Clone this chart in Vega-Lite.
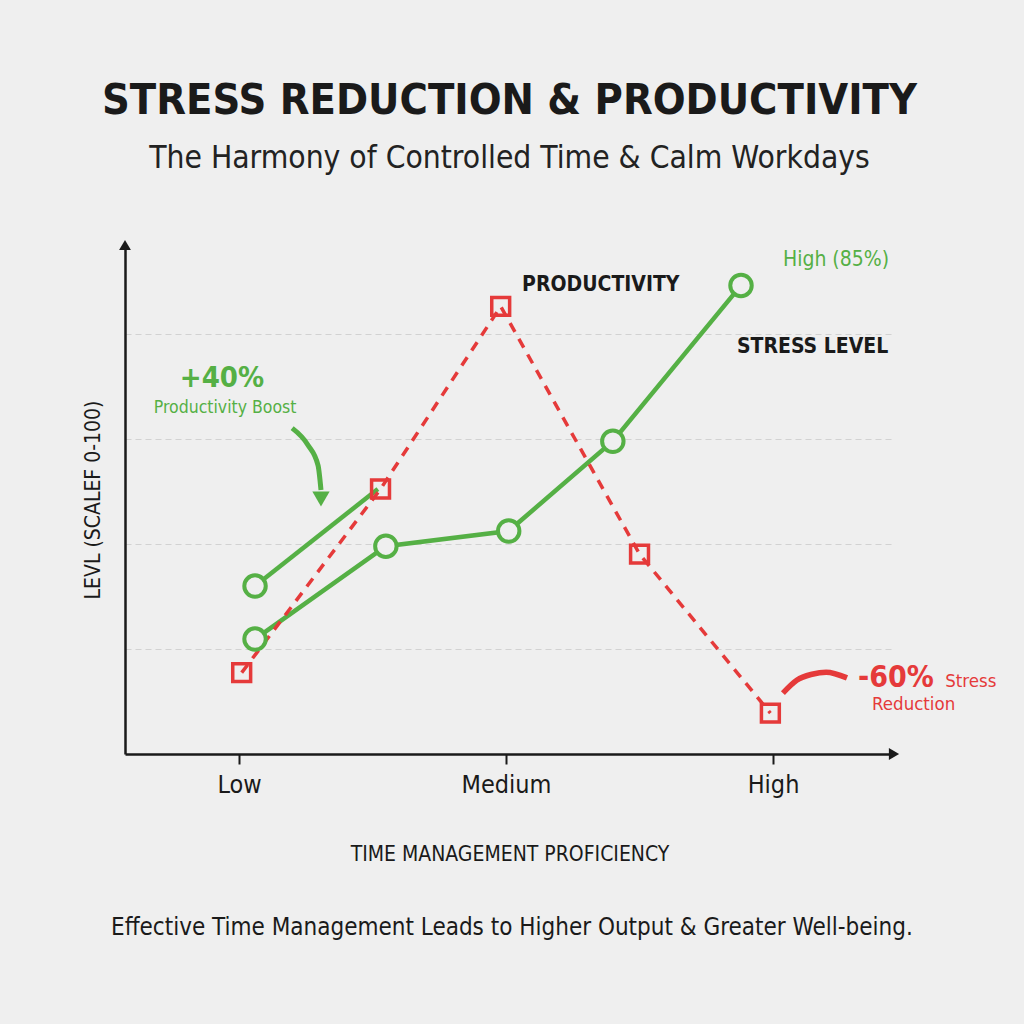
{
  "$schema": "https://vega.github.io/schema/vega-lite/v6.json",
  "autosize": "none",
  "width": 769,
  "height": 509,
  "padding": {"left": 125, "top": 245, "right": 130, "bottom": 270},
  "background": "#efefef",
  "title": {
    "text": "STRESS REDUCTION & PRODUCTIVITY",
    "subtitle": "The Harmony of Controlled Time & Calm Workdays",
    "anchor": "middle",
    "frame": "group",
    "font": "DejaVu Sans Condensed, sans-serif",
    "fontSize": 43,
    "fontWeight": "bold",
    "color": "#1a1a1a",
    "subtitleFont": "DejaVu Sans Condensed, sans-serif",
    "subtitleFontSize": 31.5,
    "subtitleColor": "#222222",
    "subtitlePadding": 20,
    "offset": 65
  },
  "config": {
    "view": {"stroke": null},
    "font": "DejaVu Sans Condensed, sans-serif"
  },
  "datasets": {
    "lines": [
      {"series": "Productivity", "level": 0.06, "value": 21.9},
      {"series": "Productivity", "level": 0.55, "value": 39.6},
      {"series": "Productivity", "level": 1.01, "value": 42.5},
      {"series": "Productivity", "level": 1.40, "value": 59.6},
      {"series": "Productivity", "level": 1.88, "value": 89.3},
      {"series": "Boost", "level": 0.06, "value": 32.0},
      {"series": "Boost", "level": 0.52, "value": 50.5},
      {"series": "Stress", "level": 0.01, "value": 15.5},
      {"series": "Stress", "level": 0.53, "value": 50.5},
      {"series": "Stress", "level": 0.98, "value": 85.3},
      {"series": "Stress", "level": 1.50, "value": 38.1},
      {"series": "Stress", "level": 1.99, "value": 7.8}
    ],
    "greenArrow": [
      {"i": 0, "level": 0.199, "value": 62.1},
      {"i": 1, "level": 0.258, "value": 58.9},
      {"i": 2, "level": 0.296, "value": 55.0},
      {"i": 3, "level": 0.307, "value": 50.3}
    ],
    "redHook": [
      {"i": 0, "level": 2.037, "value": 11.6},
      {"i": 1, "level": 2.090, "value": 14.1},
      {"i": 2, "level": 2.146, "value": 15.2},
      {"i": 3, "level": 2.199, "value": 15.6},
      {"i": 4, "level": 2.277, "value": 14.5}
    ]
  },
  "layer": [
    {
      "data": {"name": "lines"},
      "transform": [{"filter": "datum.series == 'Productivity'"}],
      "mark": {"type": "line", "color": "#55b045", "strokeWidth": 4.5},
      "encoding": {
        "x": {
          "field": "level", "type": "quantitative",
          "scale": {"domain": [-0.427, 2.453], "nice": false, "zero": false},
          "axis": {
            "values": [0, 1, 2],
            "labelExpr": "datum.value == 0 ? 'Low' : datum.value == 1 ? 'Medium' : 'High'",
            "title": "TIME MANAGEMENT PROFICIENCY",
            "titleFontSize": 21,
            "titleFontWeight": "normal",
            "titleColor": "#1a1a1a",
            "titlePadding": 46,
            "labelFontSize": 25,
            "labelColor": "#1a1a1a",
            "labelPadding": 8,
            "domainColor": "#1a1a1a",
            "domainWidth": 2.5,
            "tickColor": "#1a1a1a",
            "tickWidth": 2,
            "tickSize": 10,
            "grid": false
          }
        },
        "y": {
          "field": "value", "type": "quantitative",
          "scale": {"domain": [0, 97], "nice": false},
          "axis": {
            "values": [20, 40, 60, 80],
            "labels": false,
            "ticks": false,
            "title": "LEVL (SCALEF 0-100)",
            "titleFontSize": 21,
            "titleFontWeight": "normal",
            "titleColor": "#1a1a1a",
            "titlePadding": 22,
            "domainColor": "#1a1a1a",
            "domainWidth": 2.5,
            "grid": true,
            "gridColor": "#d2d2d2",
            "gridDash": [6, 4],
            "gridWidth": 1.2
          }
        }
      }
    },
    {
      "data": {"name": "lines"},
      "transform": [{"filter": "datum.series == 'Boost'"}],
      "mark": {"type": "line", "color": "#55b045", "strokeWidth": 4.5},
      "encoding": {
        "x": {"field": "level", "type": "quantitative"},
        "y": {"field": "value", "type": "quantitative"}
      }
    },
    {
      "data": {"name": "lines"},
      "transform": [{"filter": "datum.series == 'Stress'"}],
      "mark": {"type": "line", "color": "#e53a3a", "strokeWidth": 3.5, "strokeDash": [10, 8]},
      "encoding": {
        "x": {"field": "level", "type": "quantitative"},
        "y": {"field": "value", "type": "quantitative"}
      }
    },
    {
      "data": {"name": "lines"},
      "transform": [{"filter": "datum.series == 'Stress'"}],
      "mark": {"type": "point", "shape": "square", "size": 320, "filled": false, "color": "#e53a3a", "strokeWidth": 3.5, "opacity": 1},
      "encoding": {
        "x": {"field": "level", "type": "quantitative"},
        "y": {"field": "value", "type": "quantitative"}
      }
    },
    {
      "data": {"name": "lines"},
      "transform": [{"filter": "datum.series == 'Productivity' || (datum.series == 'Boost' && datum.level < 0.3)"}],
      "mark": {"type": "point", "shape": "circle", "size": 460, "filled": true, "fill": "#efefef", "stroke": "#55b045", "strokeWidth": 4, "opacity": 1},
      "encoding": {
        "x": {"field": "level", "type": "quantitative"},
        "y": {"field": "value", "type": "quantitative"}
      }
    },
    {
      "data": {"name": "greenArrow"},
      "mark": {"type": "line", "color": "#55b045", "strokeWidth": 5, "interpolate": "monotone"},
      "encoding": {
        "x": {"field": "level", "type": "quantitative"},
        "y": {"field": "value", "type": "quantitative"},
        "order": {"field": "i"}
      }
    },
    {
      "data": {"values": [{}]},
      "mark": {"type": "point", "shape": "triangle-down", "filled": true, "color": "#55b045", "size": 300, "opacity": 1},
      "encoding": {"x": {"datum": 0.307}, "y": {"datum": 48.6}}
    },
    {
      "data": {"name": "redHook"},
      "mark": {"type": "line", "color": "#e53a3a", "strokeWidth": 5.5, "interpolate": "monotone"},
      "encoding": {
        "x": {"field": "level", "type": "quantitative"},
        "y": {"field": "value", "type": "quantitative"},
        "order": {"field": "i"}
      }
    },
    {
      "data": {"values": [{}]},
      "mark": {"type": "point", "shape": "triangle-up", "filled": true, "color": "#1a1a1a", "size": 140, "opacity": 1},
      "encoding": {"x": {"datum": -0.427}, "y": {"datum": 97}}
    },
    {
      "data": {"values": [{}]},
      "mark": {"type": "point", "shape": "triangle-right", "filled": true, "color": "#1a1a1a", "size": 140, "opacity": 1},
      "encoding": {"x": {"datum": 2.453}, "y": {"datum": 0}}
    },
    {
      "data": {"values": [{}]},
      "mark": {"type": "text", "text": "PRODUCTIVITY", "align": "left", "baseline": "middle", "fontSize": 21, "fontWeight": "bold", "color": "#1a1a1a"},
      "encoding": {"x": {"datum": 1.06}, "y": {"datum": 89.3}}
    },
    {
      "data": {"values": [{}]},
      "mark": {"type": "text", "text": "STRESS LEVEL", "align": "left", "baseline": "middle", "fontSize": 21, "fontWeight": "bold", "color": "#1a1a1a"},
      "encoding": {"x": {"datum": 1.865}, "y": {"datum": 77.5}}
    },
    {
      "data": {"values": [{}]},
      "mark": {"type": "text", "text": "High (85%)", "align": "left", "baseline": "middle", "fontSize": 21, "color": "#55b045"},
      "encoding": {"x": {"datum": 2.037}, "y": {"datum": 94.1}}
    },
    {
      "data": {"values": [{}]},
      "mark": {"type": "text", "text": "+40%", "align": "center", "baseline": "middle", "fontSize": 29, "fontWeight": "bold", "color": "#55b045"},
      "encoding": {"x": {"datum": -0.064}, "y": {"datum": 71.6}}
    },
    {
      "data": {"values": [{}]},
      "mark": {"type": "text", "text": "Productivity Boost", "align": "center", "baseline": "middle", "fontSize": 17.5, "color": "#55b045"},
      "encoding": {"x": {"datum": -0.052}, "y": {"datum": 65.9}}
    },
    {
      "data": {"values": [{}]},
      "mark": {"type": "text", "text": "-60%", "align": "left", "baseline": "middle", "fontSize": 30, "fontWeight": "bold", "color": "#e53a3a"},
      "encoding": {"x": {"datum": 2.318}, "y": {"datum": 14.5}}
    },
    {
      "data": {"values": [{}]},
      "mark": {"type": "text", "text": "Stress", "align": "left", "baseline": "middle", "fontSize": 18.5, "color": "#e53a3a"},
      "encoding": {"x": {"datum": 2.645}, "y": {"datum": 14.0}}
    },
    {
      "data": {"values": [{}]},
      "mark": {"type": "text", "text": "Reduction", "align": "left", "baseline": "middle", "fontSize": 18.5, "color": "#e53a3a"},
      "encoding": {"x": {"datum": 2.371}, "y": {"datum": 9.5}}
    },
    {
      "data": {"values": [{}]},
      "mark": {"type": "text", "text": "Effective Time Management Leads to Higher Output & Greater Well-being.", "align": "center", "baseline": "middle", "fontSize": 24, "color": "#1a1a1a"},
      "encoding": {"x": {"datum": 1.022}, "y": {"datum": -33.1}}
    }
  ]
}
